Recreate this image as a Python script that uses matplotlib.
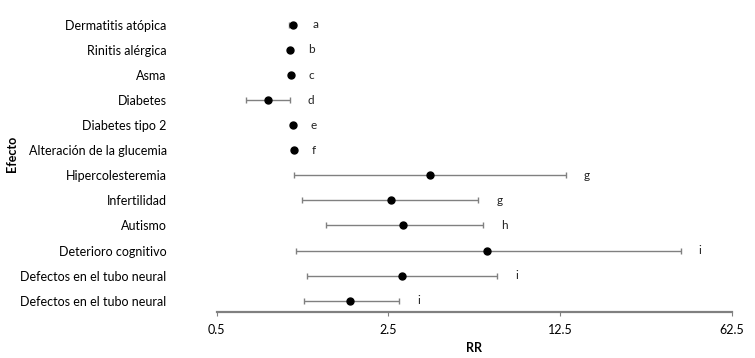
import matplotlib.pyplot as plt
import numpy as np

efectos = ['Dermatitis atópica', 'Rinitis alérgica', 'Asma', 'Diabetes', 'Diabetes tipo 2',
           'Alteración de la glucemia', 'Hipercolesteremia', 'Infertilidad', 'Autismo',
           'Deterioro cognitivo', 'Defectos en el tubo neural', 'Defectos en el tubo neural']
rr = [1.02, 0.99, 1.0, 0.81, 1.02, 1.03, 3.69, 2.55, 2.87, 6.3, 2.83, 1.74]
ic_low = [0.98, 0.99, 1.0, 0.66, 1.02, 1.03, 1.03, 1.11, 1.39, 1.05, 1.17, 1.13]
ic_high = [1.04, 0.99, 1.0, 0.99, 1.02, 1.03, 13.2, 5.8, 6.05, 38.6, 6.9, 2.76]
letras = ['a', 'b', 'c', 'd', 'e', 'f', 'g', 'g', 'h', 'i', 'i', 'i']
xticks = [0.5, 2.5, 12.5, 62.5]

plt.rcParams['font.family'] = ['Lato', 'DejaVu Sans']

fig = plt.figure(figsize=(7.55, 3.58), dpi=100)
ax = fig.add_axes([0.287, 0.1285, 0.6825, 0.8495])

y = np.arange(len(efectos))
rr = np.array(rr)
err = [rr - np.array(ic_low), np.array(ic_high) - rr]
ax.errorbar(rr, y, xerr=err, fmt='o', color='black', ms=5,
            ecolor='#808080', elinewidth=1, capsize=2.5, capthick=1)

# letras a la derecha de cada intervalo
for yi, hi, letra in zip(y, ic_high, letras):
    ax.annotate(letra, (hi, yi), xytext=(13, 0), textcoords='offset points',
                va='center', ha='left', fontsize=8.5, color='#222222')

ax.set_xscale('log')
ax.set_xlim(0.5, 62.5)
ax.set_ylim(11.45, -0.68)
ax.set_xticks(xticks)
ax.set_xticklabels([str(t) for t in xticks])
ax.minorticks_off()
ax.set_yticks(y)
ax.set_yticklabels(efectos)
ax.tick_params(axis='y', length=0, pad=36, labelsize=9)
ax.tick_params(axis='x', length=3, color='#808080', labelsize=9, pad=6)

for s in ['top', 'right', 'left']:
    ax.spines[s].set_visible(False)
ax.spines['bottom'].set_color('#808080')
ax.spines['bottom'].set_linewidth(1.6)

ax.set_xlabel('RR', fontweight='bold', fontsize=9, labelpad=4)
fig.text(0.016, 0.57, 'Efecto', rotation=90, fontweight='bold', fontsize=9,
         va='center', ha='center')

fig.savefig('out.png', dpi=100)
